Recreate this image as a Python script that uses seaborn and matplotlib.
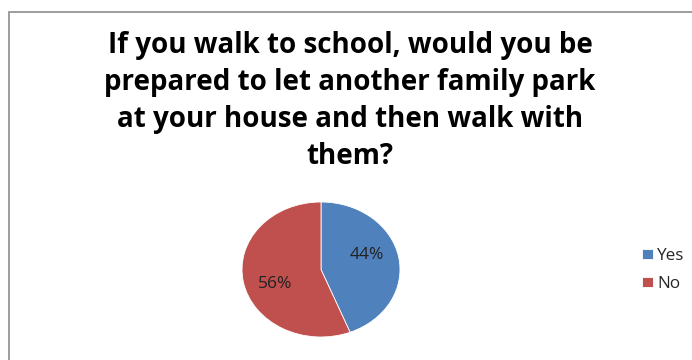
import matplotlib
matplotlib.use("Agg")
import matplotlib.pyplot as plt
from matplotlib.patches import Rectangle
import numpy as np
import seaborn as sns

categories = ["Yes", "No"]
shares = [44, 56]
colors = ["#4F81BD", "#C0504D"]
title = ("If you walk to school, would you be\n"
         "prepared to let another family park\n"
         "at your house and then walk with\n"
         "them?")

sns.set_theme(style="white")
plt.rcParams["font.family"] = ["Open Sans", "DejaVu Sans"]

W, H = 692, 360
fig = plt.figure(figsize=(W / 100, H / 100), dpi=100)
fig.patch.set_facecolor("white")

# chart-area frame (runs past the right and bottom edges)
fig.add_artist(Rectangle((8.5 / W, -0.1), 1.2, (H - 11.5) / H + 0.1,
                         transform=fig.transFigure, fill=False,
                         edgecolor="#8C8C8C", linewidth=1.2))

fig.text(350 / W, 1 - 101 / H, title, ha="center", va="center",
         fontsize=20, fontweight="bold", color="#000000", linespacing=1.36)

# elliptical pie area
x0, x1, y0, y1 = 242, 400, 202, 337
ax = fig.add_axes([x0 / W, 1 - y1 / H, (x1 - x0) / W, (y1 - y0) / H])
wedges, _, autotexts = ax.pie(
    shares, colors=colors, startangle=90, counterclock=False,
    autopct="%d%%", pctdistance=0.6,
    wedgeprops=dict(edgecolor="white", linewidth=0.6),
    textprops=dict(fontsize=12.5, color="#222222"))
# nudge percentage labels a little counter-clockwise from the wedge middle
for w, t in zip(wedges, autotexts):
    ang = np.deg2rad((w.theta1 + w.theta2) / 2 + 10)
    t.set_position((0.62 * np.cos(ang), 0.62 * np.sin(ang)))
ax.set_aspect("auto")
ax.set_xlim(-1, 1)
ax.set_ylim(-1, 1)
ax.axis("off")

fig.legend(wedges, categories, loc="center left",
           bbox_to_anchor=(627 / W, 1 - 270 / H), frameon=False,
           fontsize=12.3, handlelength=0.6, handleheight=0.6,
           handletextpad=0.25, labelspacing=0.7)

fig.savefig("out.png", dpi=100, facecolor="white")
